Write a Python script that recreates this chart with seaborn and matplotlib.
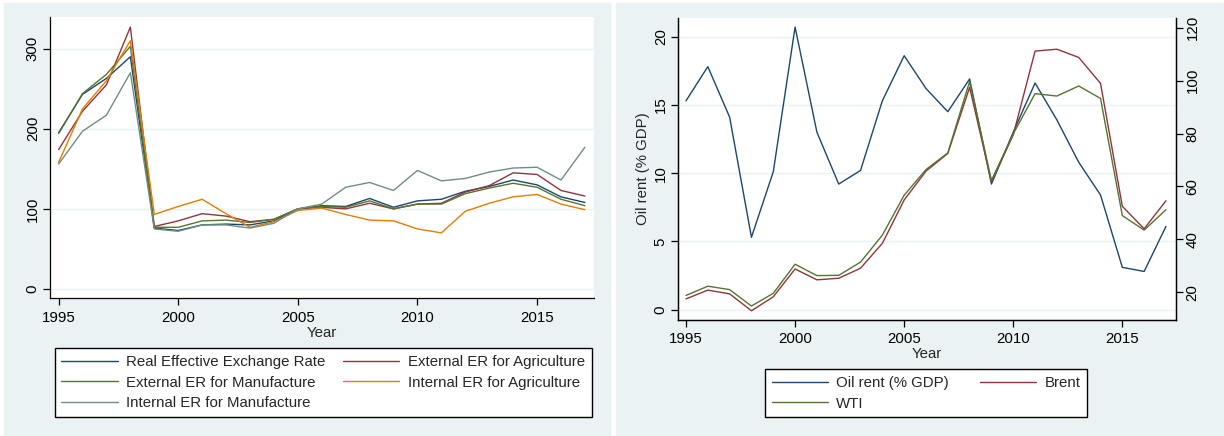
import numpy as np
import pandas as pd
import matplotlib
matplotlib.use("Agg")
import matplotlib.pyplot as plt
from matplotlib.patches import Rectangle
import seaborn as sns

years = list(range(1995, 2018))

# Left panel: exchange rate indices
reer = [195, 243, 263, 290, 76, 73, 80, 81, 80, 85, 100, 104, 103, 113, 102, 110, 112, 122, 128, 136, 130, 115, 108]
ext_agri = [174, 222, 255, 327, 78, 85, 94, 91, 84, 87, 100, 102, 100, 107, 100, 106, 107, 121, 129, 145, 143, 123, 116]
ext_manu = [194, 244, 268, 303, 77, 77, 85, 86, 83, 87, 100, 103, 102, 110, 100, 106, 106, 119, 126, 132, 127, 112, 104]
int_agri = [158, 225, 260, 310, 93, 103, 112, 94, 77, 84, 98, 101, 93, 86, 85, 75, 70, 97, 107, 115, 118, 106, 99]
int_manu = [156, 197, 217, 270, 75, 72, 80, 80, 76, 82, 100, 106, 127, 133, 123, 148, 135, 138, 146, 151, 152, 136, 177]
left_labels = ["Real Effective Exchange Rate", "External ER for Agriculture",
               "External ER for Manufacture", "Internal ER for Agriculture",
               "Internal ER for Manufacture"]

# Right panel: oil rent and oil prices
oil_rent = [15.3, 17.8, 14.1, 5.3, 10.1, 20.7, 13.0, 9.2, 10.2, 15.3, 18.6, 16.2, 14.5, 16.9, 9.2, 13.0, 16.6, 13.9, 10.8, 8.4, 3.1, 2.8, 6.1]
brent = [17.5, 20.8, 19.4, 13.0, 18.3, 28.8, 24.7, 25.3, 29.1, 38.5, 54.9, 65.8, 72.5, 97.5, 61.8, 79.5, 111.2, 111.9, 108.8, 99.0, 52.5, 44.0, 54.6]
wti = [18.8, 22.3, 21.0, 14.8, 19.6, 30.6, 26.3, 26.4, 31.4, 41.6, 56.7, 66.4, 72.7, 99.7, 62.3, 79.9, 95.1, 94.2, 98.0, 93.3, 49.0, 43.5, 51.2]
right_labels = ["Oil rent (% GDP)", "Brent", "WTI"]

navy, maroon, green, orange, teal = "#1a476f", "#90353b", "#55752f", "#e37e00", "#6e8e84"
bg = "#eaf2f3"

sns.set_style("ticks")
plt.rcParams["font.family"] = ["Liberation Sans", "DejaVu Sans"]
FS = 10.8
plt.rcParams["font.size"] = FS

W, H = 1224, 436
fig = plt.figure(figsize=(W / 100, H / 100), dpi=100, facecolor="white")

def fx(px):
    return px / W

def fy(py):
    return (H - py) / H

# panel backgrounds
fig.patches.append(Rectangle((fx(4), fy(436)), fx(610 - 4), (436 - 3) / H,
                             transform=fig.transFigure, color=bg, zorder=-10))
fig.patches.append(Rectangle((fx(616), fy(436)), fx(1224 - 616), (436 - 3) / H,
                             transform=fig.transFigure, color=bg, zorder=-10))

lw = 1.0

# ---------- Left panel ----------
ax1 = fig.add_axes([fx(49.5), fy(298), fx(594 - 49.5), (298 - 17.5) / H])
ax1.set_facecolor("white")
df_left = pd.DataFrame({"Year": years * 5,
                        "value": reer + ext_agri + ext_manu + int_agri + int_manu,
                        "series": sum([[l] * len(years) for l in left_labels], [])})
sns.lineplot(data=df_left, x="Year", y="value", hue="series", hue_order=left_labels,
             palette=[navy, maroon, green, orange, teal], ax=ax1, lw=lw, legend=False)
ax1.set_xlim(1994.62, 2017.38)
ax1.set_ylim(-11.3, 339)
ax1.set_xticks([1995, 2000, 2005, 2010, 2015])
ax1.set_yticks([0, 100, 200, 300])
ax1.set_yticklabels(["0", "100", "200", "300"], rotation=90, va="center")
ax1.grid(axis="y", color=bg, lw=1.0)
ax1.set_axisbelow(True)
for s in ["top", "right"]:
    ax1.spines[s].set_visible(False)
for s in ["left", "bottom"]:
    ax1.spines[s].set_color("black")
    ax1.spines[s].set_linewidth(0.9)
ax1.tick_params(direction="out", length=5, width=0.9, colors="black", labelsize=FS, pad=2)
ax1.tick_params(axis="x", pad=4)
ax1.set_xlabel("Year", fontsize=FS, labelpad=1)
ax1.set_ylabel("")

cols_left = [navy, maroon, green, orange, teal]
h1 = [plt.Line2D([], [], color=c, lw=lw) for c in cols_left]
order1 = [0, 2, 4, 1, 3]  # row-major display with column-major filling
leg1 = fig.legend([h1[i] for i in order1], [left_labels[i] for i in order1],
                  loc="upper left", ncol=2, bbox_to_anchor=(fx(54.5), fy(348)),
                  fontsize=FS, handlelength=3.75, handletextpad=0.55, columnspacing=1.2,
                  labelspacing=0.45, borderpad=0.45, borderaxespad=0, fancybox=False,
                  framealpha=1, edgecolor="black", facecolor="white")
leg1.get_frame().set_linewidth(1.0)

# ---------- Right panel ----------
ax2 = fig.add_axes([fx(677.5), fy(319.5), fx(1176 - 677.5), (319.5 - 17.5) / H])
ax2.set_facecolor("white")
sns.lineplot(x=years, y=oil_rent, color=navy, ax=ax2, lw=lw)
ax2.set_xlim(1994.61, 2017.46)
ax2.set_ylim(-0.72, 21.4)
ax2.set_xticks([1995, 2000, 2005, 2010, 2015])
ax2.set_yticks([0, 5, 10, 15, 20])
ax2.set_yticklabels(["0", "5", "10", "15", "20"], rotation=90, va="center")
ax2.grid(axis="y", color=bg, lw=1.0)
ax2.set_axisbelow(True)
ax2.set_xlabel("Year", fontsize=FS, labelpad=1)
ax2.set_ylabel("Oil rent (% GDP)", fontsize=FS, labelpad=3)

ax3 = ax2.twinx()
sns.lineplot(x=years, y=brent, color=maroon, ax=ax3, lw=lw)
sns.lineplot(x=years, y=wti, color=green, ax=ax3, lw=lw)
ax3.set_ylim(9.7, 123.9)
ax3.set_yticks([20, 40, 60, 80, 100, 120])
ax3.set_yticklabels(["20", "40", "60", "80", "100", "120"], rotation=90, va="center")

for a in (ax2, ax3):
    a.spines["top"].set_visible(False)
    for s in ["left", "bottom", "right"]:
        a.spines[s].set_color("black")
        a.spines[s].set_linewidth(0.9)
    a.tick_params(direction="out", length=5, width=0.9, colors="black", labelsize=FS, pad=2)
ax2.tick_params(axis="x", pad=4)

h2 = [plt.Line2D([], [], color=c, lw=lw) for c in [navy, maroon, green]]
order2 = [0, 2, 1]
leg2 = fig.legend([h2[i] for i in order2], [right_labels[i] for i in order2],
                  loc="upper left", ncol=2, bbox_to_anchor=(fx(765), fy(369)),
                  fontsize=FS, handlelength=3.75, handletextpad=0.55, columnspacing=2.05,
                  labelspacing=0.45, borderpad=0.45, borderaxespad=0, fancybox=False,
                  framealpha=1, edgecolor="black", facecolor="white")
leg2.get_frame().set_linewidth(1.0)

fig.savefig("out.png", dpi=100, facecolor="white")
